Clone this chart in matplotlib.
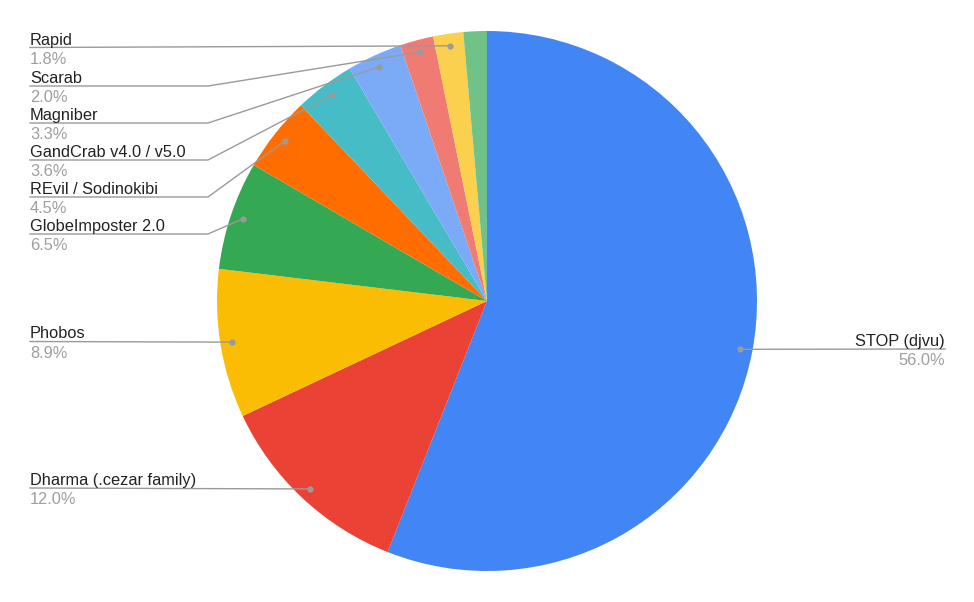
import numpy as np
import matplotlib
matplotlib.use("Agg")
import matplotlib.pyplot as plt

plt.rcParams['font.family'] = ['Liberation Sans', 'DejaVu Sans']

# slice data, clockwise from 12 o'clock
names = ["STOP (djvu)", "Dharma (.cezar family)", "Phobos", "GlobeImposter 2.0",
         "REvil / Sodinokibi", "GandCrab v4.0 / v5.0", "Magniber", "Scarab", "Rapid", ""]
shares = [56.0, 12.0, 8.9, 6.5, 4.5, 3.6, 3.3, 2.0, 1.8, 1.4]
colors = ["#4285F4", "#EA4335", "#FBBC04", "#34A853", "#FF6D01",
          "#46BDC6", "#7BAAF7", "#F07B72", "#FCD04F", "#71C287"]

W, H = 974, 602
cx, cy, R = 487, 301, 270

fig = plt.figure(figsize=(W / 100, H / 100), dpi=100)
ax = fig.add_axes([0, 0, 1, 1])
ax.pie(shares, colors=colors, startangle=90, counterclock=False,
       center=(cx, H - cy), radius=R, wedgeprops=dict(linewidth=0))
ax.set_xlim(0, W)
ax.set_ylim(0, H)
ax.set_aspect('auto')
ax.axis('off')

# label layout: line y in px from top
label_y = [349, 488, 341.5, 234, 197, 160, 123, 86, 47.5, None]
knee_x = 208
left_x, right_x = 30, 945
line_col = "#9a9a9a"
fs = 11.8

cum = np.cumsum([0] + shares[:-1])
for i, (nm, s) in enumerate(zip(names, shares)):
    if not nm:
        continue
    mid = (cum[i] + s / 2) / 100 * 2 * np.pi
    dx = cx + 0.955 * R * np.sin(mid)
    dy = H - (cy - 0.955 * R * np.cos(mid))
    ly = H - label_y[i]
    if i == 0:
        ax.plot([dx, right_x], [dy, ly], color=line_col, lw=1)
        tx, ha = right_x, 'right'
    else:
        if abs(dy - ly) < 5:
            ax.plot([left_x, dx], [ly, dy], color=line_col, lw=1)
        else:
            ax.plot([left_x, knee_x, dx], [ly, ly, dy], color=line_col, lw=1)
        tx, ha = left_x, 'left'
    ax.text(tx, ly + 3, nm, ha=ha, va='baseline', fontsize=fs, color="#222222")
    ax.text(tx, ly - 4, f"{s:.1f}%", ha=ha, va='top', fontsize=fs, color="#9e9e9e")
    ax.plot(dx, dy, 'o', color=line_col, ms=4.5, mew=0)

fig.savefig("out.png", dpi=100)
